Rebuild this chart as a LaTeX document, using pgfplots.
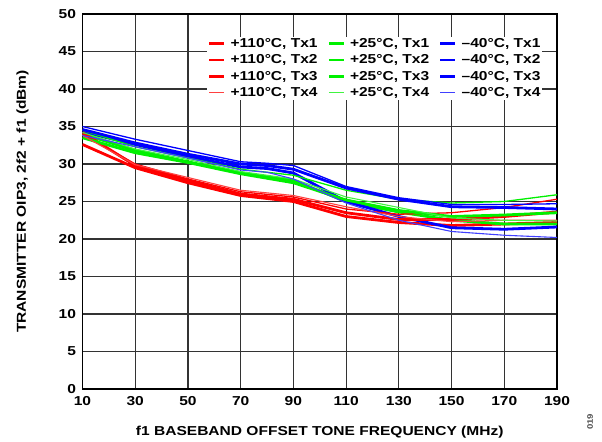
\documentclass[border=0pt]{standalone}
\usepackage{fontspec}
\setmainfont{Liberation Sans Bold}[FakeStretch=1.2]
\usepackage{pgfplots}
\pgfplotsset{compat=1.18}
\definecolor{cR}{RGB}{255,0,0}
\definecolor{cG}{RGB}{0,240,0}
\definecolor{cB}{RGB}{0,0,255}
\begin{document}
\begin{tikzpicture}[x=1bp,y=1bp]
\useasboundingbox (-82.5bp,-53bp) rectangle (519.5bp,389bp);
\begin{axis}[
  at={(0,0)}, anchor=south west,
  scale only axis, width=474.5bp, height=375bp,
  xmin=10, xmax=190, ymin=0, ymax=50,
  xtick={10,30,...,190}, ytick={0,5,...,50},
  grid=major, major grid style={black!80, line width=1.2bp},
  axis line style={black, line width=1.3bp},
  major tick length=0pt,
  /pgf/number format/assume math mode=true,
  tick label style={font=\fontsize{13}{15}\selectfont},
  xticklabel style={yshift=-4bp},
  yticklabel style={xshift=-3bp},
  label style={font=\fontsize{13}{15}\selectfont},
  xlabel={f1 BASEBAND OFFSET TONE FREQUENCY (MHz)},
  ylabel={TRANSMITTER OIP3, 2f2 + f1 (dBm)},
  xlabel style={at={(axis description cs:0.5,-0.1147)}, anchor=center},
  ylabel style={at={(axis description cs:-0.1265,0.5)}, anchor=center},
  legend columns=3,
  legend cell align=left,
  legend style={at={(0.262,0.94)}, anchor=north west, draw=none, fill=white,
    font=\fontsize{13}{15}\selectfont, inner sep=1bp,
    nodes={inner sep=0.8bp}, row sep=4.1bp,
    /tikz/every odd column/.append style={column sep=4bp},
    /tikz/every even column/.append style={column sep=9bp}},
  legend image code/.code={\draw[#1] (0bp,0bp) -- (15bp,0bp);},
]
% Tx1
\addplot[cR, line width=2.8bp] coordinates {(10,32.6)(30,29.5)(50,27.5)(70,25.8)(90,25.0)(110,23.0)(130,22.2)(150,21.8)(170,22.0)(190,22.2)};
\addlegendentry{+110°C, Tx1}
\addplot[cG, line width=2.8bp] coordinates {(10,34.0)(30,31.8)(50,30.3)(70,28.8)(90,27.8)(110,25.0)(130,23.6)(150,22.5)(170,22.0)(190,22.0)};
\addlegendentry{+25°C, Tx1}
\addplot[cB, line width=2.8bp] coordinates {(10,34.3)(30,32.6)(50,31.0)(70,29.6)(80,29.4)(90,28.8)(110,25.0)(130,23.0)(150,21.5)(170,21.3)(190,21.6)};
\addlegendentry{–40°C, Tx1}
% Tx2
\addplot[cR, line width=1.3bp] coordinates {(10,34.0)(30,30.0)(50,28.0)(70,26.3)(90,25.6)(110,24.0)(130,23.3)(150,23.5)(170,24.2)(190,25.3)};
\addlegendentry{+110°C, Tx2}
\addplot[cG, line width=1.3bp] coordinates {(10,34.5)(30,32.3)(50,30.8)(70,29.3)(90,28.5)(110,26.5)(130,25.3)(150,24.8)(170,25.0)(190,25.9)};
\addlegendentry{+25°C, Tx2}
\addplot[cB, line width=1.3bp] coordinates {(10,35.0)(30,33.3)(50,31.8)(70,30.3)(80,30.1)(90,29.8)(110,27.0)(130,25.5)(150,24.6)(170,24.6)(190,24.7)};
\addlegendentry{–40°C, Tx2}
% Tx3
\addplot[cR, line width=2.8bp] coordinates {(10,34.2)(30,29.8)(50,27.8)(70,26.0)(90,25.3)(110,23.5)(130,22.6)(150,22.6)(170,23.0)(190,23.6)};
\addlegendentry{+110°C, Tx3}
\addplot[cG, line width=2.8bp] coordinates {(10,33.5)(30,31.5)(50,30.2)(70,28.7)(90,27.5)(110,25.2)(130,23.8)(150,23.0)(170,23.2)(190,23.5)};
\addlegendentry{+25°C, Tx3}
\addplot[cB, line width=2.8bp] coordinates {(10,34.6)(30,32.8)(50,31.3)(70,30.0)(80,29.8)(90,29.3)(110,26.8)(130,25.3)(150,24.3)(170,24.2)(190,24.0)};
\addlegendentry{–40°C, Tx3}
% Tx4
\addplot[cR!75, line width=1.1bp] coordinates {(10,33.8)(30,29.9)(50,28.2)(70,26.5)(90,25.8)(110,24.3)(130,23.0)(150,22.3)(170,22.5)(190,22.5)};
\addlegendentry{+110°C, Tx4}
\addplot[cG!75, line width=1.1bp] coordinates {(10,34.2)(30,32.0)(50,30.6)(70,29.0)(90,28.0)(110,25.6)(130,24.2)(150,22.8)(170,22.5)(190,22.4)};
\addlegendentry{+25°C, Tx4}
\addplot[cB!75, line width=1.1bp] coordinates {(10,33.8)(30,32.3)(50,30.8)(70,29.2)(80,28.9)(90,28.0)(110,24.8)(130,22.5)(150,21.0)(170,20.5)(190,20.2)};
\addlegendentry{–40°C, Tx4}
\end{axis}
\node[rotate=90, font=\fontsize{8}{9}\selectfont, text=black!70, anchor=center] at (507.5bp,-33bp) {019};
\end{tikzpicture}
\end{document}
